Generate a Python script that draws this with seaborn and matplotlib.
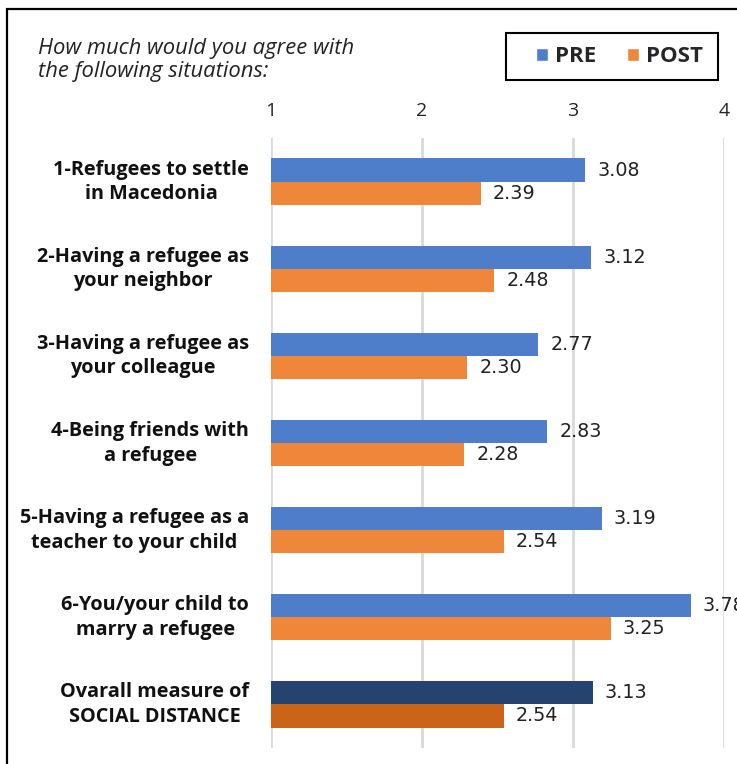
import matplotlib
matplotlib.use("Agg")
import matplotlib.pyplot as plt
from matplotlib.patches import Rectangle, Patch
from matplotlib.transforms import ScaledTranslation
import seaborn as sns
import pandas as pd

categories = [
    "1-Refugees to settle\nin Macedonia",
    "2-Having a refugee as\nyour neighbor",
    "3-Having a refugee as\nyour colleague",
    "4-Being friends with\na refugee",
    "5-Having a refugee as a\nteacher to your child",
    "6-You/your child to\nmarry a refugee",
    "Ovarall measure of\nSOCIAL DISTANCE",
]
pre_values = [3.08, 3.12, 2.77, 2.83, 3.19, 3.78, 3.13]
post_values = [2.39, 2.48, 2.30, 2.28, 2.54, 3.25, 2.54]
series = ["PRE", "POST"]
x_ticks = [1, 2, 3, 4]

title = "How much would you agree with\nthe following situations:"

c_pre = "#4E7DC9"
c_post = "#EF873B"
c_pre_dark = "#26426E"
c_post_dark = "#C96418"

df = pd.DataFrame({
    "category": categories * 2,
    "series": ["PRE"] * len(categories) + ["POST"] * len(categories),
    "value": pre_values + post_values,
})

sns.set_theme(style="white")
plt.rcParams["font.family"] = ["DejaVu Sans"]

fig = plt.figure(figsize=(7.37, 7.64), dpi=100)
ax = fig.add_axes([271 / 737, 1 - 748 / 764, (724 - 271) / 737, (748 - 138) / 764])

sns.barplot(data=df, y="category", x="value", hue="series", hue_order=series,
            palette={"PRE": c_pre, "POST": c_post}, orient="h", width=0.53,
            order=categories, ax=ax, legend=False, saturation=1)

n = len(categories)
for i, bar in enumerate(ax.patches[:2 * n]):
    s_idx = i // n
    c_idx = i % n
    if c_idx == n - 1:
        bar.set_facecolor(c_pre_dark if s_idx == 0 else c_post_dark)
    bar.set_edgecolor("none")
    val = (pre_values if s_idx == 0 else post_values)[c_idx]
    yc = bar.get_y() + bar.get_height() / 2
    ax.text(val + 0.08, yc, f"{val:.2f}", va="center", ha="left",
            fontsize=13.8, color="#222222", clip_on=False)

ax.set_xlim(1, 4)
ax.set_xticks(x_ticks)
ax.set_xticklabels([str(t) for t in x_ticks])
ax.xaxis.tick_top()
ax.tick_params(axis="x", top=False, bottom=False, labeltop=True, labelbottom=False,
               length=0, pad=13, labelsize=14, labelcolor="#222222")
for lab in ax.get_xticklabels():
    lab.set_fontfamily("Open Sans")
ax.set_xlabel("")
ax.set_ylabel("")
ax.grid(axis="x", color="#D9D9D9", linewidth=2)
ax.grid(axis="y", visible=False)
ax.set_axisbelow(True)
for sp in ax.spines.values():
    sp.set_visible(False)

ax.set_yticks(range(n))
ax.set_yticklabels(categories, fontfamily="Open Sans", fontweight="bold", fontsize=14.3,
                   color="#111111", ha="right", multialignment="center",
                   linespacing=1.3)
ax.tick_params(axis="y", left=False, length=0, pad=15.8)
shift = ScaledTranslation(0, 4.5 / 100, fig.dpi_scale_trans)
for lab in ax.get_yticklabels():
    lab.set_transform(lab.get_transform() + shift)

# title
fig.text(38 / 737, 1 - 60 / 764, title, fontfamily="Open Sans", fontstyle="italic",
         fontsize=15.8, va="center", ha="left", linespacing=1.18, color="#222222")

# legend (box drawn separately)
handles = [Patch(facecolor=c_pre), Patch(facecolor=c_post)]
leg = fig.legend(handles, series, loc="center", bbox_to_anchor=(619.5 / 737, 1 - 56.5 / 764),
                 ncol=2, frameon=False,
                 handlelength=0.54, handleheight=0.54, handletextpad=0.32,
                 columnspacing=1.4, borderpad=0.0,
                 prop={"family": "Open Sans", "weight": "bold", "size": 16})
fig.patches.append(Rectangle((506 / 737, 1 - 80 / 764), (718 - 506) / 737, 47 / 764,
                             transform=fig.transFigure, fill=False,
                             edgecolor="black", linewidth=1.5))

# outer frame
fig.patches.append(Rectangle((6.5 / 737, -0.05), 1.1, 1 - 9 / 764 + 0.05,
                             transform=fig.transFigure, fill=False,
                             edgecolor="black", linewidth=1.6))

fig.savefig("out.png", dpi=100)
